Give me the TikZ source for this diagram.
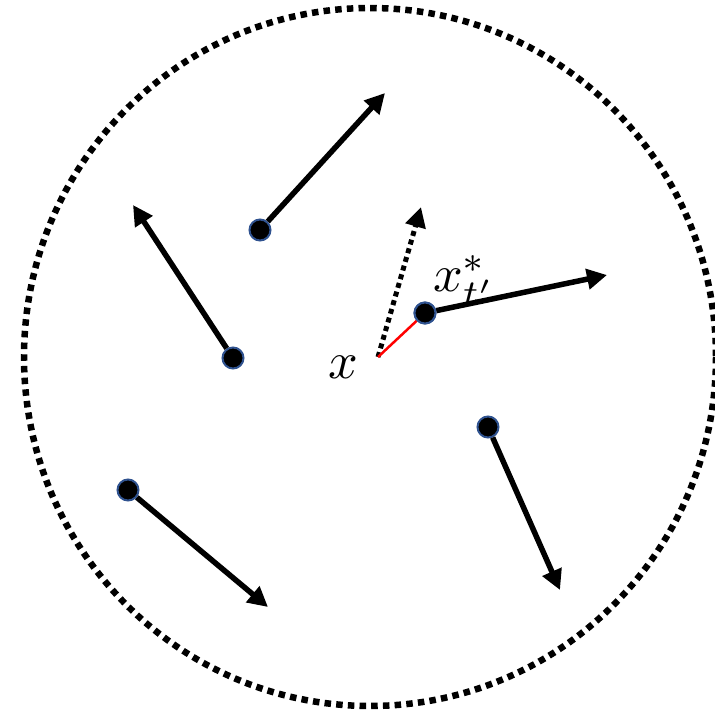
\documentclass[tikz,border=0pt]{standalone}
\usepackage{graphicx}
\usetikzlibrary{arrows.meta}
\definecolor{dotborder}{HTML}{2F528F}
\begin{document}
\begin{tikzpicture}[x=1pt,y=-1pt,
  pt/.style={circle,fill=black,draw=dotborder,line width=2pt,minimum size=21pt,inner sep=0pt},
  vec/.style={line width=5.5pt,-{Triangle[length=20pt,width=20pt]}},
  dvec/.style={line width=5pt,dash pattern=on 5pt off 4pt,-{Triangle[length=20pt,width=20pt]}},
  lbl/.style={inner sep=0pt}]
\useasboundingbox (0,0) rectangle (715,712);
\draw[line width=6.5pt,dash pattern=on 6.5pt off 5.2pt] (370,357) ellipse [x radius=346, y radius=349];
% points
\node[pt] (a) at (260,230) {};
\node[pt] (b) at (233,358) {};
\node[pt] (c) at (425,313) {};
\node[pt] (d) at (488,427) {};
\node[pt] (e) at (128,490) {};
\coordinate (x) at (378,357);
\coordinate (ta) at (385,93);
\coordinate (tb) at (133,205);
\coordinate (tc) at (607,275);
\coordinate (td) at (560,590);
\coordinate (te) at (268,607);
\coordinate (tx) at (421,207);
% arrows
\draw[vec] (a) -- (ta);
\draw[vec] (b) -- (tb);
\draw[vec] (c) -- (tc);
\draw[vec] (d) -- (td);
\draw[vec] (e) -- (te);
\draw[dvec] (x) -- (tx);
\draw[red,line width=2.5pt] (x) -- (c);
\node[pt] at (c) {};
% labels
\node[lbl,anchor=base] (lx) at (343,378) {\scalebox{5.2}{$x$}};
\node[lbl,anchor=base west] (lc) at (433,291) {\scalebox{5.2}{$x^{*}_{t'}$}};
\end{tikzpicture}
\end{document}
